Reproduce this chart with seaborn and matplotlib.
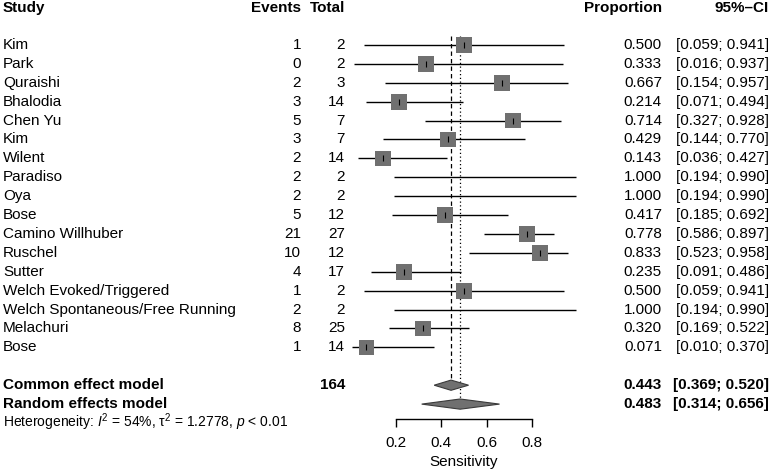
import numpy as np
import pandas as pd
import matplotlib.pyplot as plt
import matplotlib.transforms as mtransforms
import seaborn as sns

# study data
studies = ["Kim", "Park", "Quraishi", "Bhalodia", "Chen Yu", "Kim", "Wilent",
           "Paradiso", "Oya", "Bose", "Camino Willhuber", "Ruschel", "Sutter",
           "Welch Evoked/Triggered", "Welch Spontaneous/Free Running",
           "Melachuri", "Bose"]
events = [1, 0, 2, 3, 5, 3, 2, 2, 2, 5, 21, 10, 4, 1, 2, 8, 1]
totals = [2, 2, 3, 14, 7, 7, 14, 2, 2, 12, 27, 12, 17, 2, 2, 25, 14]
prop = [0.500, 0.333, 0.667, 0.214, 0.714, 0.429, 0.143, 1.000, 1.000, 0.417,
        0.778, 0.833, 0.235, 0.500, 1.000, 0.320, 0.071]
ci_lo = [0.059, 0.016, 0.154, 0.071, 0.327, 0.144, 0.036, 0.194, 0.194, 0.185,
         0.586, 0.523, 0.091, 0.059, 0.194, 0.169, 0.010]
ci_hi = [0.941, 0.937, 0.957, 0.494, 0.928, 0.770, 0.427, 0.990, 0.990, 0.692,
         0.897, 0.958, 0.486, 0.941, 0.990, 0.522, 0.370]

# pooled estimates
model_names = ["Common effect model", "Random effects model"]
model_total = 164
model_est = [0.443, 0.483]
model_lo = [0.369, 0.314]
model_hi = [0.520, 0.656]
het_text = r"Heterogeneity: $I^2$ = 54%, τ$^2$ = 1.2778, $p$ < 0.01"

x_ticks = [0.2, 0.4, 0.6, 0.8]
x_label = "Sensitivity"

sns.set_theme(style="white")
plt.rcParams['font.family'] = ['Liberation Sans', 'DejaVu Sans']
plt.rcParams['mathtext.fontset'] = 'custom'
plt.rcParams['mathtext.rm'] = 'Liberation Sans'
plt.rcParams['mathtext.it'] = 'Liberation Sans:italic'

W, H = 771, 472
fig = plt.figure(figsize=(W / 100, H / 100), dpi=100)
ax = fig.add_axes([350.2 / W, 0, 227.6 / W, 1])

df = pd.DataFrame(dict(study=studies, events=events, total=totals,
                       prop=prop, lo=ci_lo, hi=ci_hi))
df['row'] = np.arange(len(df))
n = len(df)
model_rows = [n + 1, n + 2]

sq_col = '#707070'

# confidence intervals and squares
ax.hlines(df['row'], df['lo'], df['hi'], color='black', lw=1, zorder=2)
shown = df[df['prop'] < 1]  # estimates at 1.0 sit outside the plotted range
sns.scatterplot(data=shown, x='prop', y='row', marker='s', s=128, color=sq_col,
                edgecolor='none', zorder=3, ax=ax, legend=False)
ax.scatter(shown['prop'], shown['row'], marker='|', s=14, color='black',
           linewidths=0.8, zorder=4)

# diamonds
dh = 0.27
for r, est, lo, hi in zip(model_rows, model_est, model_lo, model_hi):
    ax.fill([lo, est, hi, est], [r, r - dh, r, r + dh], facecolor=sq_col,
            edgecolor='#3a3a3a', lw=0.8, zorder=3)

# reference lines for pooled estimates
ax.vlines(model_est[0], -0.5, model_rows[0] - dh, colors='black',
          linestyles=(0, (3.5, 2.5)), lw=0.9, zorder=1)
ax.vlines(model_est[1], -0.5, model_rows[1] - dh, colors='black',
          linestyles=(0, (1, 2)), lw=0.9, zorder=1)

# layout in rows
row0, row_h = 45, 18.9
ax.set_xlim(0, 1)
ax.set_ylim((H - row0) / row_h, -row0 / row_h)
axis_row = (419 - row0) / row_h

for s in ['top', 'left', 'right']:
    ax.spines[s].set_visible(False)
ax.spines['bottom'].set_position(('data', axis_row))
ax.spines['bottom'].set_bounds(0.2, 0.8)
ax.spines['bottom'].set_color('black')
ax.spines['bottom'].set_linewidth(1)
ax.set_xticks(x_ticks)
ax.set_xticklabels([f"{t:.1f}" for t in x_ticks])
ax.tick_params(axis='x', bottom=True, direction='out', length=6, width=1,
               color='black', pad=6, labelsize=11, labelcolor='black')
ax.set_yticks([])
ax.set_xlabel(x_label, fontsize=11, labelpad=4, color='black')
ax.set_ylabel('')
ax.grid(False)
ax.patch.set_alpha(0)

# text columns
trans = mtransforms.blended_transform_factory(fig.transFigure, ax.transData)


def put(px, row, s, ha, bold=False, size=11):
    ax.text(px / W, row, s, transform=trans, ha=ha, va='center', fontsize=size,
            fontweight='bold' if bold else 'normal', color='black')


hdr = (8.5 - row0) / row_h
put(3, hdr, "Study", 'left', True)
put(301, hdr, "Events", 'right', True)
put(345, hdr, "Total", 'right', True)
put(662, hdr, "Proportion", 'right', True)
put(769, hdr, "95%–CI", 'right', True)

for _, d in df.iterrows():
    put(3, d['row'], d['study'], 'left')
    put(301, d['row'], str(int(d['events'])), 'right')
    put(345, d['row'], str(int(d['total'])), 'right')
    put(662, d['row'], f"{d['prop']:.3f}", 'right')
    put(769, d['row'], f"[{d['lo']:.3f}; {d['hi']:.3f}]", 'right')

for i, r in enumerate(model_rows):
    put(3, r, model_names[i], 'left', True)
    put(662, r, f"{model_est[i]:.3f}", 'right', True)
    put(769, r, f"[{model_lo[i]:.3f}; {model_hi[i]:.3f}]", 'right', True)
put(345, model_rows[0], str(model_total), 'right', True)
put(3, model_rows[1] + 0.95, het_text, 'left', size=10)

plt.savefig("out.png", dpi=100)
plt.close()
